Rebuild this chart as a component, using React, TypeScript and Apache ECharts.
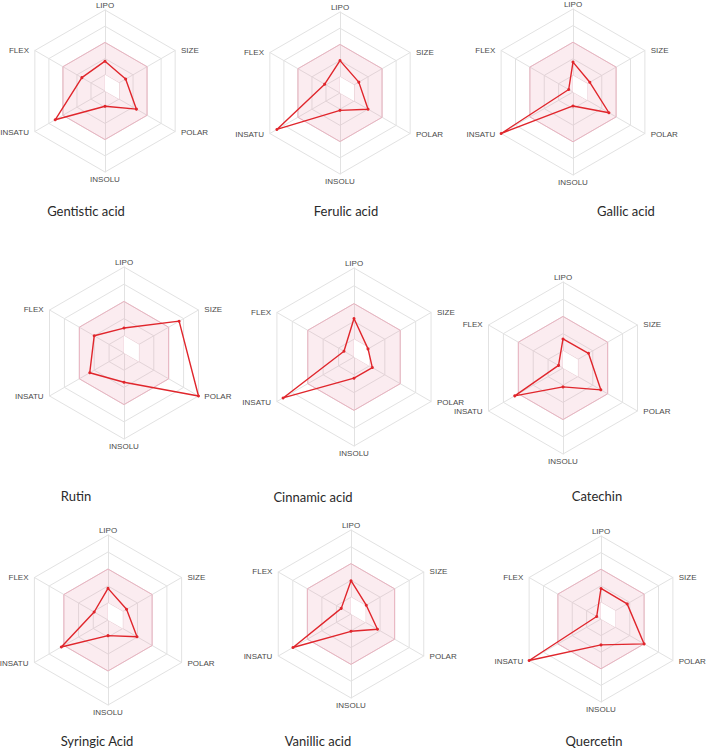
import { useEffect, useRef } from 'react';
import * as echarts from 'echarts';

// Bioavailability radar axes, listed clockwise from the top
const axisNames = ['LIPO', 'SIZE', 'POLAR', 'INSOLU', 'INSATU', 'FLEX'];
const axisMax = 5;

const compoundNames = [
  'Gentistic acid', 'Ferulic acid', 'Gallic acid',
  'Rutin', 'Cinnamic acid', 'Catechin',
  'Syringic Acid', 'Vanillic acid', 'Quercetin',
];

// Scores per compound (LIPO, SIZE, POLAR, INSOLU, INSATU, FLEX)
const gentisticAcid = [1.84, 1.47, 2.24, 0.94, 3.55, 1.65];
const ferulicAcid = [2.0, 1.34, 2.0, 1.07, 4.5, 1.09];
const gallicAcid = [1.8, 1.17, 2.5, 0.84, 5.0, 0.3];
const rutin = [1.45, 3.7, 5.0, 1.7, 2.3, 2.0];
const cinnamicAcid = [2.16, 0.91, 1.19, 1.19, 4.6, 0.65];
const catechin = [1.69, 1.71, 2.54, 1.1, 3.24, 0.3];
const syringicAcid = [1.86, 1.26, 1.97, 0.92, 3.17, 0.94];
const vanillicAcid = [1.98, 1.05, 1.82, 1.03, 3.99, 0.67];
const quercetin = [1.84, 1.82, 3.0, 1.56, 5.0, 0.3];

const compoundScores = [
  gentisticAcid, ferulicAcid, gallicAcid,
  rutin, cinnamicAcid, catechin,
  syringicAcid, vanillicAcid, quercetin,
];

// Optimal (pink) zone: outer and inner bounds per axis
const optimalUpper = [3, 3, 3, 3, 3, 3];
const optimalLower = [1, 1, 1, 0, 0, 0];

// Panel geometry: radar centre, radius and caption position
const panels = [
  { cx: 105, cy: 91, r: 81, tx: 86, ty: 211 },
  { cx: 340, cy: 93, r: 81, tx: 346, ty: 211 },
  { cx: 573, cy: 92, r: 83, tx: 626, ty: 211 },
  { cx: 124, cy: 353, r: 86, tx: 76, ty: 496 },
  { cx: 354, cy: 357, r: 89, tx: 313, ty: 497 },
  { cx: 563, cy: 368, r: 86, tx: 597, ty: 496 },
  { cx: 108, cy: 620, r: 85, tx: 97, ty: 741 },
  { cx: 351, cy: 614, r: 84, tx: 318, ty: 741 },
  { cx: 601, cy: 619, r: 83, tx: 594, ty: 741 },
];

// ECharts lays radar indicators out counter-clockwise; reorder accordingly
const ccw = [0, 5, 4, 3, 2, 1];
const toCcw = <T,>(v: T[]) => ccw.map((i) => v[i]);

export default function App() {
  const ref = useRef<HTMLDivElement>(null);

  useEffect(() => {
    document.body.style.margin = '0';
    if (!ref.current) return;
    const chart = echarts.init(ref.current, undefined, { renderer: 'svg' });

    const radar = panels.map((p) => ({
      center: [p.cx, p.cy],
      radius: p.r,
      startAngle: 90,
      splitNumber: 5,
      shape: 'polygon',
      indicator: toCcw(axisNames).map((name) => ({ name, min: 0, max: axisMax })),
      axisName: {
        color: '#4a4a4a',
        fontSize: 8,
        fontFamily: 'Liberation Sans, Arial, sans-serif',
        padding: [2, 5, 0, 5],
      },
      nameGap: 1,
      axisLine: { lineStyle: { color: '#e2e2e2', width: 1 } },
      splitLine: { lineStyle: { color: '#e2e2e2', width: 1 } },
      splitArea: { show: false },
      axisTick: { show: false },
      axisLabel: { show: false },
    }));

    const series = compoundScores.map((scores, k) => ({
      type: 'radar',
      radarIndex: k,
      silent: true,
      data: [
        {
          value: toCcw(optimalUpper),
          symbol: 'none',
          lineStyle: { color: '#eab7c3', width: 1 },
          areaStyle: { color: 'rgba(232, 150, 172, 0.18)', opacity: 1 },
        },
        {
          value: toCcw(optimalLower),
          symbol: 'none',
          lineStyle: { color: '#f0d2d9', width: 0.8 },
          areaStyle: { color: '#ffffff', opacity: 1 },
        },
        {
          value: toCcw(scores),
          symbol: 'circle',
          symbolSize: 3,
          itemStyle: { color: '#e0262c' },
          lineStyle: { color: '#e0262c', width: 1.4 },
        },
      ],
    }));

    const graphic = panels.map((p, k) => ({
      type: 'text',
      x: p.tx,
      y: p.ty,
      silent: true,
      style: {
        text: compoundNames[k],
        fill: '#2a2a2a',
        font: '13px Lato, "Open Sans", sans-serif',
        align: 'center',
        verticalAlign: 'middle',
      },
    }));

    chart.setOption({
      animation: false,
      backgroundColor: '#ffffff',
      radar,
      series,
      graphic,
    });

    return () => chart.dispose();
  }, []);

  return <div ref={ref} style={{ width: 708, height: 750 }} />;
}
